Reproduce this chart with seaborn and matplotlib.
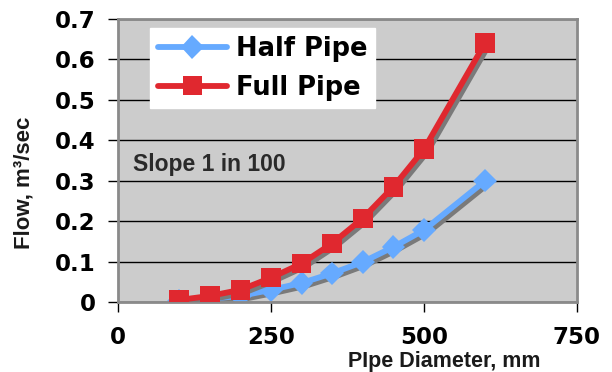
import matplotlib
matplotlib.use("Agg")
import matplotlib.pyplot as plt
import matplotlib.patheffects as pe
import seaborn as sns
import pandas as pd

diameter = [100, 150, 200, 250, 300, 350, 400, 450, 500, 600]
half_pipe = [0.003, 0.008, 0.015, 0.03, 0.047, 0.071, 0.099, 0.136, 0.178, 0.300]
full_pipe = [0.005, 0.015, 0.030, 0.060, 0.095, 0.145, 0.207, 0.285, 0.378, 0.641]
series_names = ["Half Pipe", "Full Pipe"]
x_ticks = [0, 250, 500, 750]
y_ticks = [0, 0.1, 0.2, 0.3, 0.4, 0.5, 0.6, 0.7]

df = pd.DataFrame({
    "Diameter": diameter * 2,
    "Flow": half_pipe + full_pipe,
    "Series": [series_names[0]] * len(diameter) + [series_names[1]] * len(diameter),
})

sns.set_style("white")
plt.rcParams["font.family"] = ["DejaVu Sans"]

fig = plt.figure(figsize=(6.12, 3.72), dpi=100)
ax = fig.add_axes([118 / 612, 70 / 372, (577 - 118) / 612, (302 - 19) / 372])
ax.set_facecolor("#cccccc")

palette = {"Half Pipe": "#66aaff", "Full Pipe": "#e0282f"}
markers = {"Half Pipe": "D", "Full Pipe": "s"}
shadow = [pe.SimpleLineShadow(offset=(2.2, -2.2), shadow_color="#7a7a7a", alpha=1.0), pe.Normal()]

for name in series_names:
    sub = df[df["Series"] == name]
    sns.lineplot(data=sub, x="Diameter", y="Flow", ax=ax, color=palette[name],
                 marker=markers[name], markersize=14 if name == "Full Pipe" else 12,
                 markeredgewidth=0, linewidth=4.2, label=name, zorder=3 if name == "Full Pipe" else 2,
                 path_effects=shadow)

ax.set_xlim(0, 750)
ax.set_ylim(0, 0.7)
ax.set_xticks(x_ticks)
ax.set_yticks(y_ticks)
ax.set_xticklabels([str(v) for v in x_ticks])
ax.set_yticklabels(["0"] + [f"{v:.1f}" for v in y_ticks[1:]])
ax.grid(axis="y", color="black", linewidth=1.0)
ax.grid(axis="x", visible=False)
ax.set_axisbelow(True)

for s in ax.spines.values():
    s.set_visible(True)
    s.set_color("#8a8a8a")
    s.set_linewidth(2)

ax.tick_params(axis="both", direction="out", length=7, width=1, color="black",
               labelsize=16.5, labelcolor="black", left=True, bottom=True)
ax.tick_params(axis="x", pad=10)
ax.tick_params(axis="y", pad=9)
for lab in ax.get_xticklabels() + ax.get_yticklabels():
    lab.set_fontweight("bold")

ax.set_xlabel("PIpe Diameter, mm", fontsize=15.5, fontweight="bold", color="#1a1a1a",
              family="Liberation Sans")
ax.xaxis.set_label_coords((444 - 118) / 459, -(367 - 302) / 283, transform=ax.transAxes)
ax.xaxis.label.set_va("baseline")
ax.set_ylabel("Flow, m³/sec", fontsize=16, fontweight="bold", color="#1a1a1a",
              family="Liberation Sans")
ax.yaxis.set_label_coords(-(118 - 24) / 459, (302 - 183) / 283)
ax.yaxis.label.set_va("center")

ax.text((133 - 118) / 459, (302 - 165) / 283, "Slope 1 in 100", transform=ax.transAxes,
        fontsize=16.5, fontweight="bold", color="#2a2a2a", family="Liberation Sans",
        va="center", ha="left")

leg = ax.legend(loc="upper left", bbox_to_anchor=((150 - 118) / 459, (302 - 28) / 283),
                frameon=True, fancybox=False,
                fontsize=18.5, handlelength=2.7, borderpad=0.3, labelspacing=0.5,
                handletextpad=0.35, borderaxespad=0)
leg.get_frame().set_facecolor("white")
leg.get_frame().set_edgecolor("white")
leg.get_frame().set_alpha(1)
for t in leg.get_texts():
    t.set_fontweight("bold")
    t.set_color("black")
for h in leg.get_lines():
    h.set_path_effects([pe.Normal()])

fig.savefig("out.png", dpi=100)
